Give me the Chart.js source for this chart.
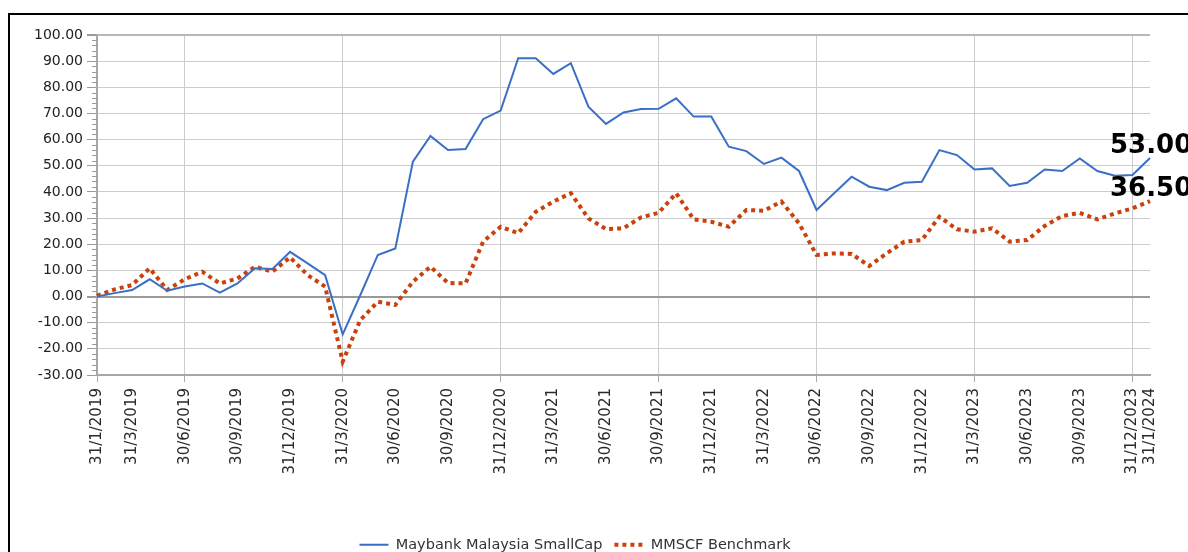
<!DOCTYPE html>
<html>
<head>
<meta charset="utf-8">
<script src="https://cdn.jsdelivr.net/npm/chart.js@4.4.1/dist/chart.umd.min.js"></script>
<style>
  body { margin: 0; background: #fff; }
  #frame { position: absolute; left: 8px; top: 13px; width: 1180px; height: 539px; border-left: 2px solid #000; border-top: 2px solid #000; }
  #wrap { position: absolute; left: 0; top: 0; width: 1188px; height: 552px; }
</style>
</head>
<body>
<div id="frame"></div>
<div id="wrap"><canvas id="perf"></canvas></div>
<script>
// month-end dates, Jan 2019 .. Jan 2024
let month_labels = [
    "31/1/2019", "28/2/2019", "31/3/2019", "30/4/2019", "31/5/2019", "30/6/2019",
    "31/7/2019", "31/8/2019", "30/9/2019", "31/10/2019", "30/11/2019", "31/12/2019",
    "31/1/2020", "29/2/2020", "31/3/2020", "30/4/2020", "31/5/2020", "30/6/2020",
    "31/7/2020", "31/8/2020", "30/9/2020", "31/10/2020", "30/11/2020", "31/12/2020",
    "31/1/2021", "28/2/2021", "31/3/2021", "30/4/2021", "31/5/2021", "30/6/2021",
    "31/7/2021", "31/8/2021", "30/9/2021", "31/10/2021", "30/11/2021", "31/12/2021",
    "31/1/2022", "28/2/2022", "31/3/2022", "30/4/2022", "31/5/2022", "30/6/2022",
    "31/7/2022", "31/8/2022", "30/9/2022", "31/10/2022", "30/11/2022", "31/12/2022",
    "31/1/2023", "28/2/2023", "31/3/2023", "30/4/2023", "31/5/2023", "30/6/2023",
    "31/7/2023", "31/8/2023", "30/9/2023", "31/10/2023", "30/11/2023", "31/12/2023",
    "31/1/2024"
]

// only these dates get a label and a grid line
let tick_labels = [
    "31/1/2019", "31/3/2019", "30/6/2019", "30/9/2019", "31/12/2019",
    "31/3/2020", "30/6/2020", "30/9/2020", "31/12/2020",
    "31/3/2021", "30/6/2021", "30/9/2021", "31/12/2021",
    "31/3/2022", "30/6/2022", "30/9/2022", "31/12/2022",
    "31/3/2023", "30/6/2023", "30/9/2023", "31/12/2023", "31/1/2024"
]

let fund_values = [
    0.0, 1.3, 2.5, 6.6, 2.2, 3.8, 5.0, 1.5, 5.0, 10.8, 10.5, 17.1,
    12.7, 8.2, -14.5, 0.5, 15.9, 18.4, 51.6, 61.4, 56.0, 56.4, 67.8, 71.1,
    91.1, 91.1, 85.1, 89.2, 72.6, 66.0, 70.4, 71.7, 71.8, 75.8, 68.8, 68.8,
    57.3, 55.6, 50.7, 53.1, 48.0, 33.1, 39.5, 45.8, 42.0, 40.7, 43.5, 43.9,
    56.0, 54.1, 48.6, 49.0, 42.3, 43.5, 48.6, 48.0, 52.8, 48.0, 46.2, 46.5,
    53.0
]

let bench_values = [
    0.3, 2.7, 4.4, 10.8, 2.5, 6.6, 9.5, 5.0, 6.9, 11.4, 9.5, 15.0,
    8.2, 3.8, -24.9, -9.0, -2.0, -3.2, 5.7, 11.4, 5.2, 5.0, 21.0, 26.7,
    24.2, 32.4, 36.3, 39.5, 29.9, 25.8, 26.1, 30.3, 32.0, 39.5, 29.5, 28.6,
    26.7, 33.1, 32.8, 36.3, 28.0, 15.9, 16.5, 16.3, 11.7, 16.5, 21.0, 21.6,
    30.5, 25.7, 24.8, 26.1, 21.0, 21.6, 27.0, 30.8, 32.0, 29.5, 31.8, 33.7,
    36.5
]

let series_names = ["Maybank Malaysia SmallCap", "MMSCF Benchmark"]
let end_labels = ["53.00", "36.50"]

let font_family = "'DejaVu Sans', Verdana, sans-serif"

function is_shown(index) {
    return tick_labels.includes(month_labels[index])
}

// small ticks every 2 units on the left axis
const minor_ticks = {
    id: "minor_ticks",
    afterDraw(chart) {
        let ctx = chart.ctx
        let y_scale = chart.scales.y
        let left = chart.chartArea.left
        ctx.save()
        ctx.strokeStyle = "#9a9a9a"
        ctx.lineWidth = 1
        for (let v = -30; v <= 100; v += 2) {
            if (v % 10 == 0) continue
            let py = Math.round(y_scale.getPixelForValue(v)) + 0.5
            ctx.beginPath()
            ctx.moveTo(left - 5, py)
            ctx.lineTo(left, py)
            ctx.stroke()
        }
        ctx.restore()
    }
}

// big value labels at the last point
const end_value_labels = {
    id: "end_value_labels",
    afterDatasetsDraw(chart) {
        let ctx = chart.ctx
        let last = month_labels.length - 1
        let px = chart.scales.x.getPixelForValue(last)
        ctx.save()
        ctx.font = "bold 26px " + font_family
        ctx.fillStyle = "#000"
        ctx.textAlign = "left"
        ctx.textBaseline = "alphabetic"
        ctx.fillText(end_labels[0], px - 40, chart.scales.y.getPixelForValue(fund_values[last]) - 5)
        ctx.fillText(end_labels[1], px - 40, chart.scales.y.getPixelForValue(bench_values[last]) - 5)
        ctx.restore()
    }
}

new Chart("perf", {
    type: "line",
    data: {
        labels: month_labels,
        datasets: [{
            label: series_names[0],
            data: fund_values,
            borderColor: "#3a6fc6",
            backgroundColor: "#3a6fc6",
            borderWidth: 2,
            pointRadius: 0,
            tension: 0,
            fill: false
        }, {
            label: series_names[1],
            data: bench_values,
            borderColor: "#c9420d",
            backgroundColor: "#c9420d",
            borderWidth: 4,
            borderDash: [4, 4],
            pointRadius: 0,
            tension: 0,
            fill: false
        }]
    },
    options: {
        responsive: true,
        maintainAspectRatio: false,
        animation: false,
        layout: { padding: { left: 0, right: 38, top: 35, bottom: -10 } },
        plugins: {
            tooltip: { enabled: false },
            legend: {
                position: "bottom",
                labels: {
                    usePointStyle: true,
                    pointStyle: "line",
                    pointStyleWidth: 29,
                    boxWidth: 29,
                    boxHeight: 4,
                    padding: 12,
                    color: "#333",
                    font: { family: font_family, size: 14.5 },
                    // keep each series' own width and dash in the legend sample
                    generateLabels: function(chart) {
                        let items = Chart.defaults.plugins.legend.labels.generateLabels(chart)
                        items.forEach(function(item) {
                            let ds = chart.data.datasets[item.datasetIndex]
                            item.strokeStyle = ds.borderColor
                            item.lineWidth = ds.borderWidth
                            item.lineDash = ds.borderDash || []
                            item.pointStyle = "line"
                        })
                        return items
                    }
                }
            }
        },
        scales: {
            x: {
                type: "category",
                afterFit: function(scale) {
                    scale.height = scale.chart.height + 10 - 375 - scale.chart.legend.height
                },
                grid: {
                    color: (c) => (c.index !== undefined && is_shown(c.index)) ? "#cccccc" : "rgba(0,0,0,0)",
                    tickColor: (c) => (c.index !== undefined && is_shown(c.index)) ? "#aaaaaa" : "rgba(0,0,0,0)",
                    lineWidth: 1,
                    tickLength: 7
                },
                border: { color: "#a8a8a8", width: 2 },
                ticks: {
                    autoSkip: false,
                    minRotation: 90,
                    maxRotation: 90,
                    padding: 6,
                    color: "#2a2a2a",
                    font: { family: font_family, size: 15 },
                    callback: function(value, index) {
                        return is_shown(index) ? month_labels[index] : null
                    }
                }
            },
            y: {
                min: -30,
                max: 100,
                afterFit: function(scale) {
                    scale.width = 97
                },
                grid: {
                    color: (c) => (c.tick && c.tick.value == 0) ? "#9a9a9a" : (c.tick && c.tick.value == 100 ? "#b8b8b8" : "#cccccc"),
                    lineWidth: (c) => (c.tick && (c.tick.value == 0 || c.tick.value == 100)) ? 2 : 1,
                    tickColor: "#9a9a9a",
                    tickLength: 10
                },
                border: { color: "#a8a8a8", width: 2 },
                ticks: {
                    stepSize: 10,
                    padding: 4,
                    color: "#222",
                    font: { family: font_family, size: 14 },
                    callback: (v) => v.toFixed(2)
                }
            }
        }
    },
    plugins: [minor_ticks, end_value_labels]
})
</script>
</body>
</html>
